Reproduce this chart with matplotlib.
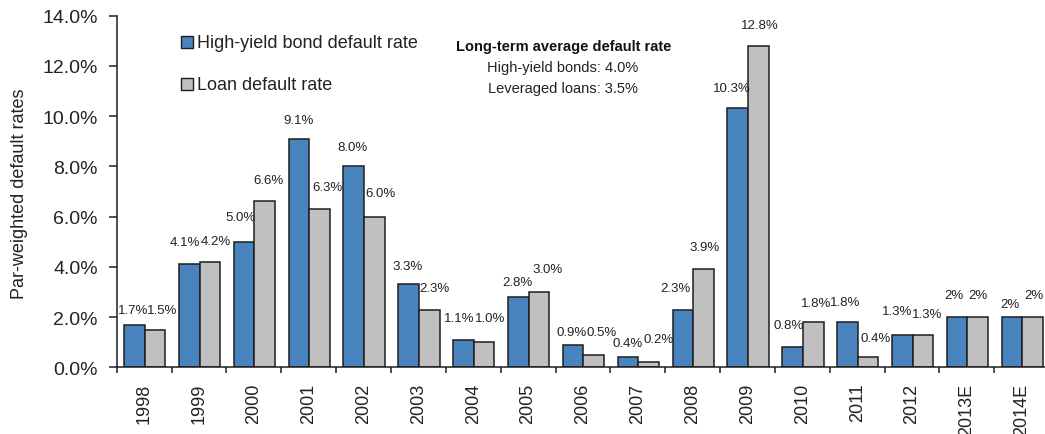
import matplotlib
matplotlib.use("Agg")
import matplotlib.pyplot as plt
from matplotlib.patches import Rectangle
import numpy as np

plt.rcParams['font.family'] = ['Liberation Sans', 'DejaVu Sans']

# ---- data ----
years = ["1998", "1999", "2000", "2001", "2002", "2003", "2004", "2005", "2006",
         "2007", "2008", "2009", "2010", "2011", "2012", "2013E", "2014E"]
hy_rate = [1.7, 4.1, 5.0, 9.1, 8.0, 3.3, 1.1, 2.8, 0.9, 0.4, 2.3, 10.3, 0.8, 1.8, 1.3, 2.0, 2.0]
loan_rate = [1.5, 4.2, 6.6, 6.3, 6.0, 2.3, 1.0, 3.0, 0.5, 0.2, 3.9, 12.8, 1.8, 0.4, 1.3, 2.0, 2.0]
hy_labels = ["1.7%", "4.1%", "5.0%", "9.1%", "8.0%", "3.3%", "1.1%", "2.8%", "0.9%",
             "0.4%", "2.3%", "10.3%", "0.8%", "1.8%", "1.3%", "2%", "2%"]
loan_labels = ["1.5%", "4.2%", "6.6%", "6.3%", "6.0%", "2.3%", "1.0%", "3.0%", "0.5%",
               "0.2%", "3.9%", "12.8%", "1.8%", "0.4%", "1.3%", "2%", "2%"]
series_names = ["High-yield bond default rate", "Loan default rate"]
note_title = "Long-term average default rate"
note_lines = ["High-yield bonds: 4.0%", "Leveraged loans: 3.5%"]
y_ticks = [0, 2, 4, 6, 8, 10, 12, 14]

# label nudges in pixels (dx from bar centre, dy above bar top) -- layout only
hy_nudge = [(-1.3, 14.3), (-4, 22.3), (-3.7, 24.7), (0, 18.3), (-1, 19.7), (-1, 18.3),
            (-4.3, 21.7), (-1.3, 15.4), (-1.3, 12.7), (-0.8, 14.3), (-7, 22), (-5.8, 20),
            (-4.2, 22.3), (-2.3, 20.3), (-4.7, 23.3), (-2.7, 21.7), (-1.7, 13.4)]
loan_nudge = [(6.7, 19.3), (6.4, 20.3), (3.5, 21), (7.5, 22), (6.2, 23.7), (5.3, 21.7),
              (5.7, 24), (8.2, 23.4), (7.5, 23), (9.7, 23), (0.8, 22), (1.5, 20.7),
              (2.5, 19.3), (8, 19), (4.2, 21), (0.3, 21.7), (1.5, 21.7)]

W, H = 1045, 435
fig = plt.figure(figsize=(W / 100, H / 100), dpi=100)
ax = fig.add_axes([116.7 / W, (H - 368.3) / H, 932.5 / W, (368.3 - 16.5) / H])

blue = "#4a84bf"
gray = "#c0c0c0"
edge = "#1e1e1e"
txt = "#222222"

x = np.arange(len(years))
bw = 0.377
b1 = ax.bar(x - bw / 2 + 0.01, hy_rate, bw, color=blue, edgecolor=edge, linewidth=1.1, zorder=2)
b2 = ax.bar(x + bw / 2 + 0.01, loan_rate, bw, color=gray, edgecolor=edge, linewidth=1.1, zorder=2)

px2pt = 0.72
for bars, labels, nudges in ((b1, hy_labels, hy_nudge), (b2, loan_labels, loan_nudge)):
    for rect, lab, (dx, dy) in zip(bars, labels, nudges):
        ax.annotate(lab, (rect.get_x() + rect.get_width() / 2, rect.get_height()),
                    xytext=(dx * px2pt, dy * px2pt), textcoords="offset points",
                    ha="center", va="center", fontsize=9.5, color=txt,
                    annotation_clip=False)

ax.set_xlim(-0.5, len(years) - 0.5)
ax.set_ylim(0, 14)
ax.set_yticks(y_ticks)
ax.set_yticklabels([f"{v:.1f}%" for v in y_ticks], fontsize=14, color=txt)
ax.set_xticks(x)
ax.set_xticklabels(years, rotation=90, fontsize=13, color=txt)
ax.set_xticks(np.arange(len(years) + 1) - 0.5, minor=True)
ax.tick_params(axis="x", which="major", length=0, pad=11)
ax.tick_params(axis="x", which="minor", length=4, width=1.1, direction="out", color=edge)
ax.tick_params(axis="y", length=5.5, width=1.1, direction="out", pad=8, color=edge)
for s in ("top", "right"):
    ax.spines[s].set_visible(False)
for s in ("left", "bottom"):
    ax.spines[s].set_color(edge)
    ax.spines[s].set_linewidth(1.1)

fig.text(20 / W, (H - 193.5) / H, "Par-weighted default rates", rotation=90,
         ha="center", va="center", fontsize=13, color=txt)

# legend (manual)
sq = 12.6
for i, (name, col) in enumerate(zip(series_names, (blue, gray))):
    cy = 43 + i * 42
    fig.patches.append(Rectangle((180.7 / W, (H - cy - sq / 2) / H), sq / W, sq / H,
                                 transform=fig.transFigure, facecolor=col,
                                 edgecolor=edge, linewidth=1.0))
    fig.text(197 / W, (H - cy) / H, name, ha="left", va="center", fontsize=13, color=txt)

# note
fig.text(563.5 / W, (H - 46.7) / H, note_title, ha="center", va="center",
         fontsize=10.5, fontweight="bold", color="#111111")
for j, line in enumerate(note_lines):
    fig.text(563 / W, (H - 68.3 - j * 21) / H, line, ha="center", va="center",
             fontsize=10.5, color=txt)

fig.savefig("out.png", dpi=100)
